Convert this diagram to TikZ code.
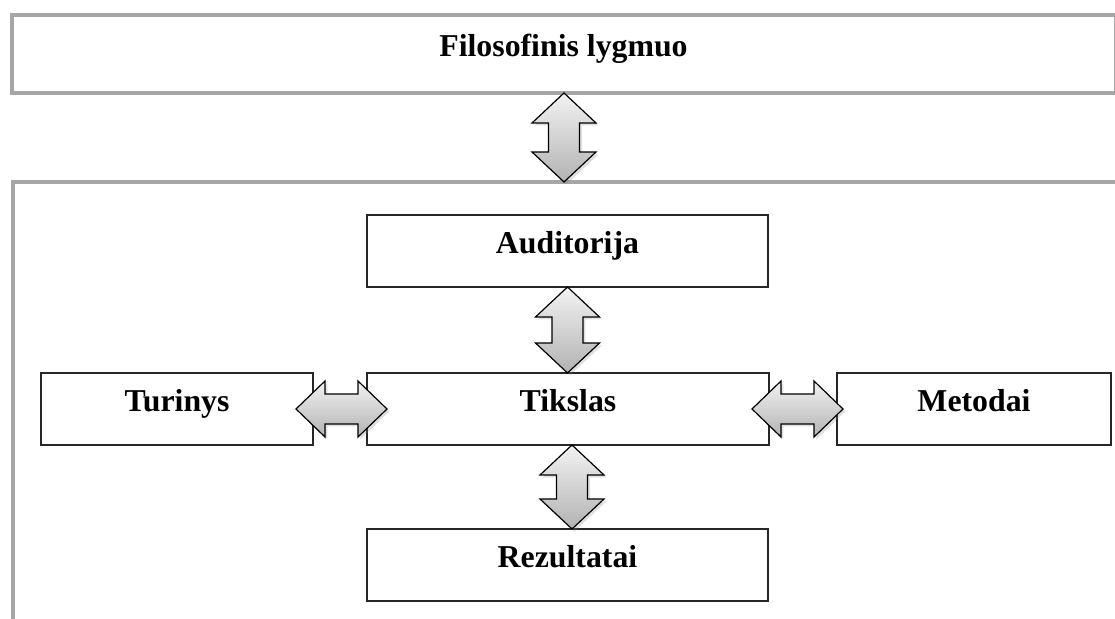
\documentclass[tikz,border=0pt]{standalone}
\usepackage{fontspec}
\setmainfont{Liberation Serif}
\usetikzlibrary{calc,shadows}

\tikzset{
  frame/.style={draw=black!35, line width=2pt, outer sep=0pt},
  box/.style={draw=black!85, line width=0.7pt, outer sep=0pt, minimum height=36pt},
  label/.style={font=\fontsize{15.9}{18}\selectfont\bfseries, text height=0.55em, text depth=0.25em},
  blockshade/.style={draw=black, line width=0.6pt, top color=black!5, bottom color=black!30,
    drop shadow={shadow xshift=1.2pt, shadow yshift=-1.2pt, opacity=0.25}},
  varrow/.style={blockshade, to path={let \p1=(\tikztostart), \p2=(\tikztotarget) in
    (\x1,\y1) -- (\x1+16pt,\y1-15pt) -- (\x1+7.75pt,\y1-15pt) -- (\x1+7.75pt,\y2+15pt)
    -- (\x1+16pt,\y2+15pt) -- (\x1,\y2) -- (\x1-16pt,\y2+15pt) -- (\x1-7.75pt,\y2+15pt)
    -- (\x1-7.75pt,\y1-15pt) -- (\x1-16pt,\y1-15pt) -- cycle}},
  harrow/.style={blockshade, to path={let \p1=(\tikztostart), \p2=(\tikztotarget) in
    (\x1,\y1) -- (\x1+14.5pt,\y1+14pt) -- (\x1+14.5pt,\y1+7.5pt) -- (\x2-14.5pt,\y1+7.5pt)
    -- (\x2-14.5pt,\y1+14pt) -- (\x2,\y1) -- (\x2-14.5pt,\y1-14pt) -- (\x2-14.5pt,\y1-7.5pt)
    -- (\x1+14.5pt,\y1-7.5pt) -- (\x1+14.5pt,\y1-14pt) -- cycle}}
}

\begin{document}
\begin{tikzpicture}[x=0.5pt, y=-0.5pt]
%%Page
\useasboundingbox (0,0) rectangle (1115,619);
\clip (0,0) rectangle (1115,619);

%%Frames
\node[frame, label, minimum width=552pt, minimum height=39pt] (phil) at (563.5,54) {Filosofinis lygmuo};
\node[frame, anchor=north west, minimum width=700pt, minimum height=400pt] (field) at (13,182) {};

%%Boxes
\node[box, label, minimum width=200.5pt] (aud) at (567.5,251) {Auditorija};
\node[box, label, minimum width=201pt] (tik) at (568,409) {Tikslas};
\node[box, label, minimum width=136pt] (tur) at (177,409) {Turinys};
\node[box, label, minimum width=137pt] (met) at (974,409) {Metodai};
\node[box, label, minimum width=200.5pt] (rez) at (567.5,565) {Rezultatai};

%%Arrows
\draw[varrow] ([xshift=-2pt]phil.south -| tik.center) to ([xshift=-2pt]field.north -| tik.center);
\draw[varrow] (aud.south) to (tik.north);
\draw[varrow] ([xshift=2pt]tik.south) to ([xshift=2pt]rez.north);
\draw[harrow] ([xshift=-8.5pt]tur.east) to ([xshift=10pt]tik.west);
\draw[harrow] ([xshift=-8.5pt]tik.east) to ([xshift=3pt]met.west);
\end{tikzpicture}
\end{document}
